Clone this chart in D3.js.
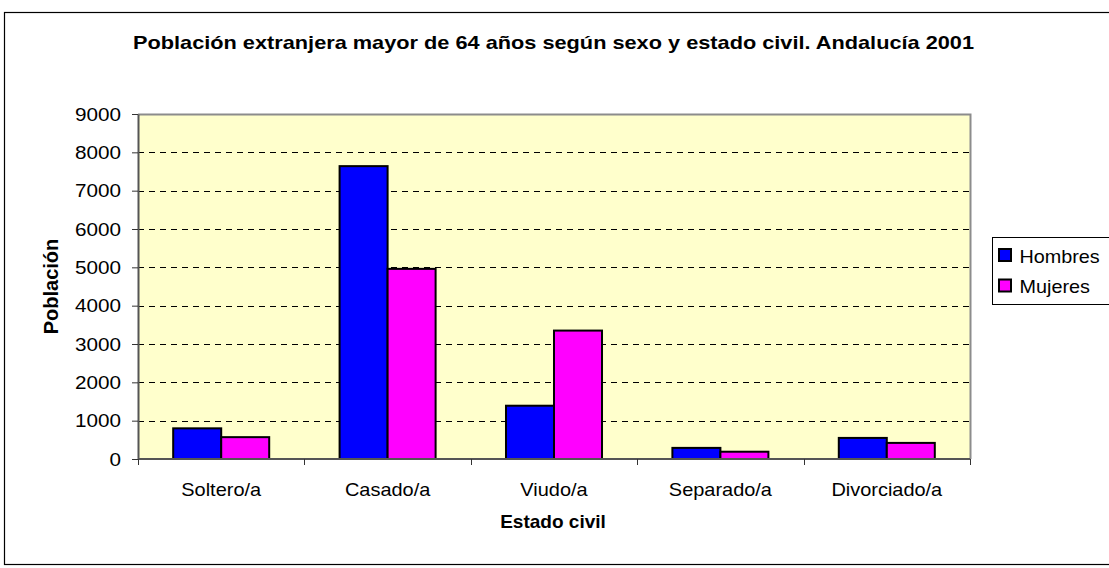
<!DOCTYPE html>
<html>
<head>
<meta charset="utf-8">
<script src="https://cdn.jsdelivr.net/npm/d3@7"></script>
<style>
  body { margin: 0; background: #fff; }
  text { font-family: Arial, "Liberation Sans", sans-serif; fill: #000; }
</style>
</head>
<body>
<svg id="chart" width="1109" height="568"></svg>
<script>
const categories = ['Soltero/a', 'Casado/a', 'Viudo/a', 'Separado/a', 'Divorciado/a']
const seriesNames = ['Hombres', 'Mujeres']
const hombres = [800, 7640, 1390, 290, 550]
const mujeres = [570, 4960, 3350, 190, 420]
const yTicks = [0, 1000, 2000, 3000, 4000, 5000, 6000, 7000, 8000, 9000]
const colors = ['#0000FF', '#FF00FF']

const svg = d3.select('#chart')

const plot = {left: 138, top: 114, right: 970, bottom: 459}

// outer frame (runs off the right edge, like the source)
svg.append('rect')
    .attr('x', 4.5).attr('y', 12.5)
    .attr('width', 1120).attr('height', 552)
    .attr('fill', '#fff').attr('stroke', '#000').attr('stroke-width', 1.2)

svg.append('text')
    .attr('x', 133).attr('y', 49)
    .attr('font-size', 19).attr('font-weight', 'bold')
    .attr('textLength', 841).attr('lengthAdjust', 'spacingAndGlyphs')
    .text('Población extranjera mayor de 64 años según sexo y estado civil. Andalucía 2001')

const x = d3.scaleBand()
    .domain(categories)
    .range([plot.left, plot.right])
    .paddingInner(0.423)
    .paddingOuter(0.2115)

const x1 = d3.scaleBand()
    .domain(seriesNames)
    .range([0, x.bandwidth()])

const y = d3.scaleLinear()
    .domain([0, 9000])
    .range([plot.bottom, plot.top])

// plot background
svg.append('rect')
    .attr('x', plot.left).attr('y', plot.top)
    .attr('width', plot.right - plot.left).attr('height', plot.bottom - plot.top)
    .attr('fill', '#FFFFCC')

// grid lines
svg.append('g')
    .selectAll('line')
    .data(yTicks.filter(d => d > 0 && d < 9000))
    .join('line')
    .attr('x1', plot.left).attr('x2', plot.right)
    .attr('y1', d => Math.round(y(d)) + 0.5).attr('y2', d => Math.round(y(d)) + 0.5)
    .attr('stroke', '#000')
    .attr('stroke-dasharray', '6,5')

// top / right border of plot area
svg.append('path')
    .attr('d', `M${plot.left},${plot.top + 0.5}H${plot.right + 0.5}V${plot.bottom}`)
    .attr('fill', 'none')
    .attr('stroke', '#8c8c8c')
    .attr('stroke-width', 2)

// bars
const data = categories.map((c, i) => ({cat: c, values: [hombres[i], mujeres[i]]}))

const groups = svg.append('g')
    .selectAll('g')
    .data(data)
    .join('g')
    .attr('transform', d => `translate(${x(d.cat)},0)`)

groups.selectAll('rect')
    .data(d => d.values.map((v, i) => ({name: seriesNames[i], value: v, i})))
    .join('rect')
    .attr('x', d => x1(d.name))
    .attr('y', d => y(d.value))
    .attr('width', x1.bandwidth())
    .attr('height', d => y(0) - y(d.value))
    .attr('fill', d => colors[d.i])
    .attr('stroke', '#000')
    .attr('stroke-width', 2)

// y axis
const yAxis = svg.append('g')
    .attr('transform', `translate(${plot.left},0)`)
    .call(d3.axisLeft(y).tickValues(yTicks).tickSize(6).tickSizeOuter(0).tickFormat(d3.format('d')))
yAxis.select('.domain').attr('stroke', '#555').attr('stroke-width', 2)
yAxis.selectAll('.tick line').attr('stroke', '#333')
yAxis.selectAll('text')
    .attr('font-size', 18)
    .attr('font-family', 'Arial, "Liberation Sans", sans-serif')
    .attr('fill', '#000')
    .attr('x', 0).attr('dy', null).attr('y', 6)
    .attr('transform', 'translate(-17,0) scale(1.15,1)')

// x axis: ticks at category boundaries
const bounds = d3.range(categories.length + 1).map(i => plot.left + i * x.step())
const xAxis = svg.append('g')
xAxis.append('line')
    .attr('x1', plot.left).attr('x2', plot.right)
    .attr('y1', plot.bottom).attr('y2', plot.bottom)
    .attr('stroke', '#555').attr('stroke-width', 2)
xAxis.selectAll('.bt')
    .data(bounds)
    .join('line')
    .attr('class', 'bt')
    .attr('x1', d => Math.round(d) + 0.5).attr('x2', d => Math.round(d) + 0.5)
    .attr('y1', plot.bottom).attr('y2', plot.bottom + 6)
    .attr('stroke', '#333')
xAxis.selectAll('text')
    .data(categories)
    .join('text')
    .attr('transform', d => `translate(${x(d) + x.bandwidth() / 2},496) scale(1.05,1)`)
    .attr('text-anchor', 'middle')
    .attr('font-size', 19)
    .text(d => d)

// axis titles
svg.append('text')
    .attr('x', 553).attr('y', 528)
    .attr('text-anchor', 'middle')
    .attr('font-size', 19).attr('font-weight', 'bold')
    .text('Estado civil')

svg.append('text')
    .attr('transform', `translate(58,${(plot.top + plot.bottom) / 2}) rotate(-90)`)
    .attr('text-anchor', 'middle')
    .attr('font-size', 20).attr('font-weight', 'bold')
    .text('Población')

// legend
const legend = svg.append('g').attr('transform', 'translate(992.5,237.5)')
legend.append('rect')
    .attr('width', 130).attr('height', 67)
    .attr('fill', '#fff').attr('stroke', '#000')
const items = legend.selectAll('g')
    .data(seriesNames)
    .join('g')
    .attr('transform', (d, i) => `translate(0,${25 + i * 30.5})`)
items.append('rect')
    .attr('x', 6.5).attr('y', -13.5)
    .attr('width', 12).attr('height', 12)
    .attr('fill', (d, i) => colors[i])
    .attr('stroke', '#000').attr('stroke-width', 2)
items.append('text')
    .attr('transform', 'translate(27,0) scale(1.1,1)')
    .attr('font-size', 18)
    .text(d => d)
</script>
</body>
</html>
